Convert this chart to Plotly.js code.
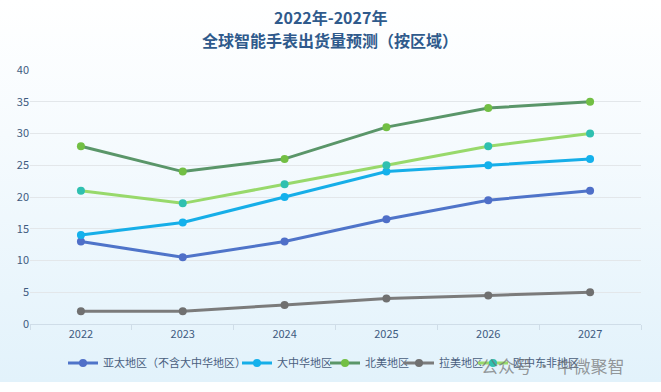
<!DOCTYPE html>
<html>
<head>
<meta charset="utf-8">
<script src="https://cdn.plot.ly/plotly-3.0.1.min.js"></script>
<style>
  html, body { margin: 0; padding: 0; background: #ffffff; }
  #wrap { position: relative; width: 661px; height: 392px; }
  #bg { position: absolute; left: 0; top: 0; width: 661px; height: 382px;
        background: linear-gradient(to bottom, #ffffff 0%, #f6fbfe 35%, #e2f2fb 100%); }
  #chart { position: absolute; left: 0; top: 0; width: 661px; height: 392px; }
</style>
</head>
<body>
<div id="wrap"><div id="bg"></div><div id="chart"></div></div>
<script>
const years = ['2022', '2023', '2024', '2025', '2026', '2027'];
const seriesNames = ['亚太地区（不含大中华地区）', '大中华地区', '北美地区', '拉美地区', '欧中东非地区'];
const apac = [13, 10.5, 13, 16.5, 19.5, 21];
const greaterChina = [14, 16, 20, 24, 25, 26];
const northAmerica = [28, 24, 26, 31, 34, 35];
const latam = [2, 2, 3, 4, 4.5, 5];
const emea = [21, 19, 22, 25, 28, 30];
const yTicks = [0, 5, 10, 15, 20, 25, 30, 35, 40];
const titleLines = ['2022年-2027年', '全球智能手表出货量预测（按区域）'];

const values = [apac, greaterChina, northAmerica, latam, emea];
const lineColors = ['#4f74c9', '#16aee8', '#5a9669', '#7b7b7b', '#98d96b'];
const markerColors = ['#4f6fc8', '#14b1ec', '#72bf44', '#707070', '#2fc0b0'];
const legendIds = ['legend', 'legend2', 'legend3', 'legend4', 'legend5'];
// left pixel where each legend entry starts (layout only)
const legendLeft = [63, 237, 325, 399, 473];

const traces = values.map((v, i) => ({
  type: 'scatter', mode: 'lines+markers',
  x: years, y: v, name: seriesNames[i], legend: legendIds[i],
  line: { color: lineColors[i], width: 3 },
  marker: { color: markerColors[i], size: 8 }
}));

const font = 'Noto Sans CJK SC, Noto Sans, sans-serif';
const titleFont = { family: font, size: 16, color: '#2f5a8c' };
const layout = {
  width: 661, height: 392,
  paper_bgcolor: 'rgba(0,0,0,0)', plot_bgcolor: 'rgba(0,0,0,0)',
  margin: { l: 30, r: 20, t: 70, b: 68, autoexpand: false },
  font: { family: font, color: '#3f5b80', size: 11 },
  xaxis: {
    type: 'category', range: [-0.5, 5.5],
    showgrid: false, showline: true, linecolor: '#cfdde8', linewidth: 1,
    ticks: 'outside', ticklen: 5, tickcolor: '#cfdde8', tickson: 'boundaries',
    tickfont: { size: 11, color: '#3f5b80' }, zeroline: false
  },
  yaxis: {
    range: [0, 40], tickvals: yTicks, showgrid: true, gridcolor: '#e3e7ea', gridwidth: 1,
    zeroline: false, showline: false, ticks: '', ticklen: 0,
    tickfont: { size: 11, color: '#3f5b80' }
  },
  showlegend: true,
  annotations: [
    { text: '<b>' + titleLines[0] + '</b>', xref: 'paper', yref: 'paper', x: 0.491, y: 1.209,
      xanchor: 'center', yanchor: 'middle', showarrow: false, font: titleFont },
    { text: '<b>' + titleLines[1] + '</b>', xref: 'paper', yref: 'paper', x: 0.491, y: 1.118,
      xanchor: 'center', yanchor: 'middle', showarrow: false, font: titleFont },
    { text: '公众号 · 中微聚智', xref: 'paper', yref: 'paper',
      x: 0.977, xanchor: 'right', y: -0.165, yanchor: 'middle', showarrow: false,
      font: { size: 17, color: 'rgba(110,110,110,0.7)', family: font } }
  ]
};
legendIds.forEach((id, i) => {
  layout[id] = {
    orientation: 'h', xref: 'container', yref: 'container',
    x: legendLeft[i] / 661, xanchor: 'left', y: 1 - 363 / 392, yanchor: 'middle',
    font: { size: 11, color: '#4a5f80' }, itemwidth: 30,
    bgcolor: 'rgba(0,0,0,0)', borderwidth: 0
  };
});

Plotly.newPlot('chart', traces, layout, { displayModeBar: false, responsive: false });
</script>
</body>
</html>
